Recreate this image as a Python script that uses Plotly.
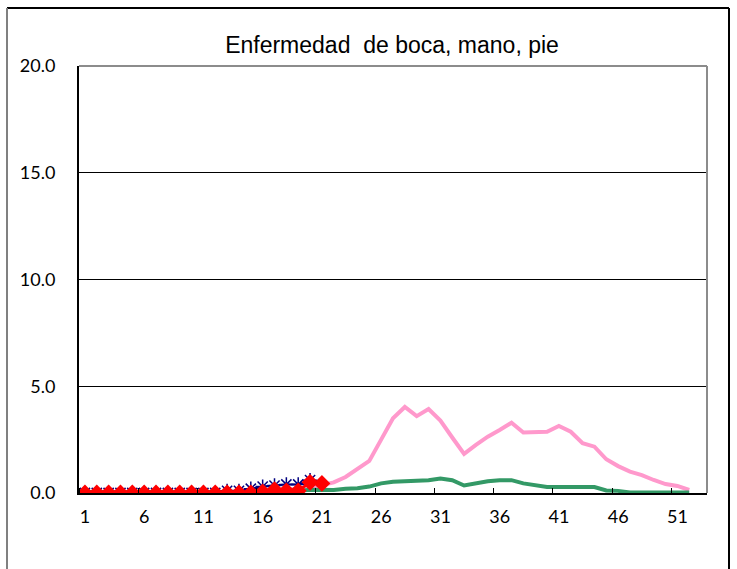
import plotly.graph_objects as go

weeks = list(range(1, 53))

# Average (pink) and other reference line (green), weeks 1-52
pink_vals = [0.05, 0.05, 0.05, 0.05, 0.05, 0.05, 0.05, 0.05, 0.05, 0.05,
             0.05, 0.05, 0.05, 0.05, 0.1, 0.1, 0.15, 0.15, 0.2, 0.25,
             0.37, 0.5, 0.75, 1.1, 1.5, 2.5, 3.5, 4.03, 3.6, 3.93,
             3.39, 2.6, 1.83, 2.25, 2.64, 2.95, 3.29, 2.83, 2.87, 2.87,
             3.14, 2.87, 2.33, 2.17, 1.58, 1.26, 1.0, 0.84, 0.61, 0.42,
             0.33, 0.14]
green_vals = [0.05, 0.05, 0.05, 0.05, 0.05, 0.05, 0.05, 0.05, 0.05, 0.05,
              0.05, 0.05, 0.05, 0.05, 0.05, 0.1, 0.1, 0.1, 0.1, 0.15,
              0.15, 0.14, 0.2, 0.22, 0.3, 0.45, 0.53, 0.55, 0.6, 0.6,
              0.68, 0.6, 0.35, 0.45, 0.55, 0.6, 0.6, 0.45, 0.35, 0.28,
              0.28, 0.28, 0.28, 0.28, 0.12, 0.1, 0.02, 0.02, 0.02, 0.02,
              0.02, 0.02]
blue_weeks = list(range(1, 21))
blue_vals = [0, 0, 0, 0, 0, 0, 0, 0, 0, 0, 0, 0,
             0.1, 0.1, 0.2, 0.3, 0.35, 0.4, 0.4, 0.6]
red_weeks = list(range(1, 22))
red_vals = [0, 0, 0, 0, 0, 0, 0, 0, 0, 0, 0, 0, 0, 0, 0,
            0.05, 0.15, 0.1, 0.1, 0.5, 0.45]

x_tickvals = [1, 6, 11, 16, 21, 26, 31, 36, 41, 46, 51]
y_tickvals = [0, 5, 10, 15, 20]
title_text = "Enfermedad&nbsp;&nbsp;de boca, mano, pie"

fig = go.Figure()
fig.add_trace(go.Scatter(x=weeks, y=pink_vals, mode="lines",
                         line=dict(color="#FF99CC", width=4), showlegend=False))
fig.add_trace(go.Scatter(x=weeks, y=green_vals, mode="lines",
                         line=dict(color="#339966", width=4), showlegend=False))
fig.add_trace(go.Scatter(x=blue_weeks, y=blue_vals, mode="lines+markers",
                         line=dict(color="#000080", width=2),
                         marker=dict(symbol="asterisk-open", size=12,
                                     line=dict(color="#000080", width=1.5)),
                         showlegend=False))
fig.add_trace(go.Scatter(x=red_weeks, y=red_vals, mode="lines+markers",
                         line=dict(color="#FF0000", width=3),
                         marker=dict(symbol="diamond", size=13, color="#FF0000"),
                         showlegend=False))

W, H = 737, 569
L, R, T, B = 79, 30, 66, 76
pw, ph = W - L - R, H - T - B

def px(x):
    return (x - L) / pw

def py(y):
    return (H - B - y) / ph

shapes = [
    # plot area border top/right (gray)
    dict(type="line", xref="paper", yref="paper", x0=0, x1=1, y0=1, y1=1,
         line=dict(color="#8C8C8C", width=2), layer="above"),
    dict(type="line", xref="paper", yref="paper", x0=1, x1=1, y0=0, y1=1,
         line=dict(color="#8C8C8C", width=2), layer="above"),
    # outer frame
    dict(type="line", xref="paper", yref="paper", x0=px(7), x1=px(729), y0=py(8), y1=py(8),
         line=dict(color="#000000", width=2)),
    dict(type="line", xref="paper", yref="paper", x0=px(7), x1=px(7), y0=py(8), y1=py(600),
         line=dict(color="#808080", width=2)),
    dict(type="line", xref="paper", yref="paper", x0=px(729), x1=px(729), y0=py(8), y1=py(600),
         line=dict(color="#000000", width=2)),
]

fig.update_layout(
    width=W, height=H,
    margin=dict(l=L, r=R, t=T, b=B, autoexpand=False),
    paper_bgcolor="white", plot_bgcolor="white",
    title=dict(text=title_text, x=392 / W, xanchor="center", y=1 - 45 / H, yanchor="middle",
               font=dict(family="Liberation Sans, Arial", size=23, color="black")),
    font=dict(family="Lato, sans-serif", size=18, color="black"),
    shapes=shapes,
    xaxis=dict(range=[0.5, 53.5], tickmode="array", tickvals=x_tickvals,
               ticktext=[str(v) for v in x_tickvals], ticks="", showgrid=False,
               showline=True, linecolor="black", linewidth=2, zeroline=False,
               ticklabelstandoff=6, automargin=False,
               minor=dict(tickmode="linear", tick0=0.5, dtick=5, ticks="inside",
                          ticklen=5, tickcolor="black", tickwidth=1, showgrid=False)),
    yaxis=dict(range=[0, 20], tickmode="array", tickvals=y_tickvals,
               ticktext=[f"{v:.1f}" for v in y_tickvals], ticks="",
               showgrid=True, gridcolor="black", gridwidth=1,
               showline=True, linecolor="black", linewidth=2, zeroline=False,
               ticklabelstandoff=18, automargin=False),
)

fig.write_html("out.html", config={"displayModeBar": False},
               post_script="document.body.style.margin='0';document.body.style.overflow='hidden';")
